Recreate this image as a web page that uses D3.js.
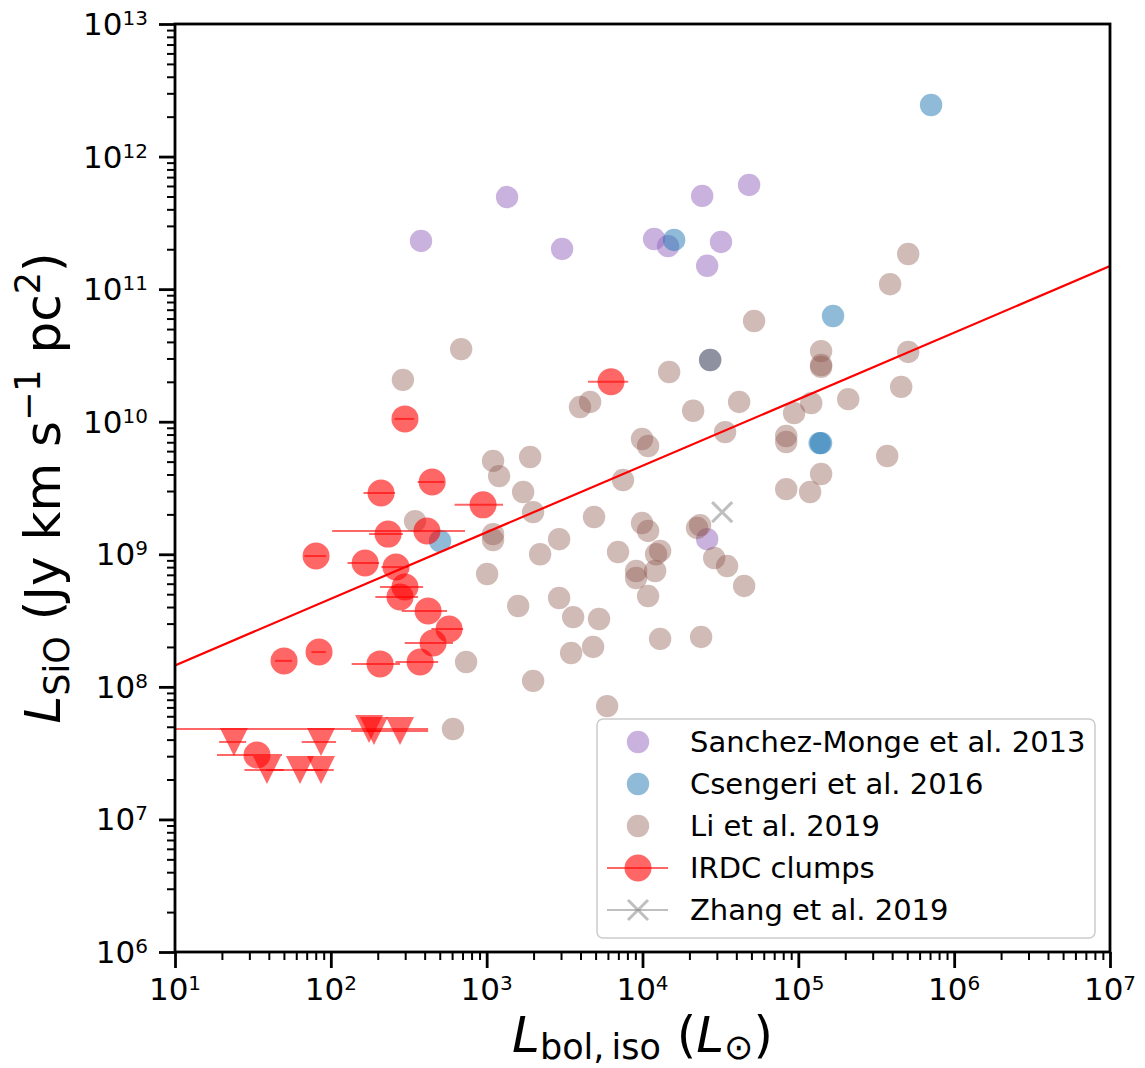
<!DOCTYPE html>
<html>
<head>
<meta charset="utf-8">
<script src="https://cdn.jsdelivr.net/npm/d3@7"></script>
<style>
  html, body { margin: 0; padding: 0; background: #ffffff; }
  svg { display: block; font-family: "DejaVu Sans", sans-serif; }
</style>
</head>
<body>
<script>
// Sanchez-Monge et al. 2013
const sanchezLbol = [379, 1352, 3048, 11870, 14590, 24150, 48300, 31900, 26000, 26000];
const sanchezLsio = [2.31e11, 4.95e11, 2.01e11, 2.39e11, 2.11e11, 5.05e11, 6.11e11, 2.27e11, 1.50e11, 1.30e9];

// Csengeri et al. 2016
const csengeriLbol = [7.11e5, 15960, 1.67e5, 27170, 1.37e5, 1.40e5, 502];
const csengeriLsio = [2.45e12, 2.35e11, 6.27e10, 2.92e10, 6.90e9, 6.90e9, 1.26e9];

// Li et al. 2019
const liLbol = [686, 290, 1099, 1202, 347, 1099, 1099, 1007, 738, 608,
  14820, 27170, 3970, 4610, 21130, 41690, 9930, 10860, 33880, 83600,
  83600, 83600, 1.19e5, 1901, 1714, 1986, 7500, 2917, 4887, 2203,
  9930, 10860, 6966, 12970, 12220, 9100, 9100, 12050, 10860, 22390,
  23420, 28840, 34910, 44900, 1592, 2917, 3589, 5260, 3483, 4818,
  12970, 23770, 1986, 5930, 5.07e5, 3.88e5, 52000, 1.40e5, 1.40e5, 1.40e5,
  5.07e5, 1.21e5, 93900, 2.09e5, 4.57e5, 3.72e5, 1.40e5];
const liLsio = [3.53e10, 2.07e10, 5.06e9, 3.89e9, 1.78e9, 1.42e9, 1.28e9, 7.10e8, 1.54e8, 4.81e7,
  2.37e10, 2.92e10, 1.29e10, 1.41e10, 1.21e10, 1.41e10, 7.41e9, 6.56e9, 8.35e9, 7.80e9,
  7.03e9, 3.10e9, 2.95e9, 5.42e9, 2.95e9, 2.08e9, 3.63e9, 1.30e9, 1.91e9, 1.00e9,
  1.72e9, 1.50e9, 1.04e9, 1.06e9, 1.00e9, 7.48e8, 6.62e8, 7.48e8, 4.84e8, 1.58e9,
  1.66e9, 9.38e8, 8.15e8, 5.77e8, 4.07e8, 4.68e8, 3.36e8, 3.25e8, 1.80e8, 2.00e8,
  2.30e8, 2.38e8, 1.11e8, 7.16e7, 1.84e11, 1.09e11, 5.75e10, 3.41e10, 2.68e10, 2.59e10,
  3.36e10, 1.38e10, 1.16e10, 1.48e10, 1.83e10, 5.51e9, 4.03e9];

// IRDC clumps: detections
const irdcLbol    = [299, 6280, 210, 447, 948, 233, 414, 80.4, 166, 262, 299, 278, 421, 574, 453, 50.1, 84.0, 207, 374, 33.6];
const irdcLbolErr = [43, 1810, 48, 86, 326, 57, 312, 12.7, 38, 51, 92, 85, 136, 132, 155, 6.3, 9, 71, 114, 15];
const irdcLsio    = [1.05e10, 2.0e10, 2.90e9, 3.51e9, 2.36e9, 1.42e9, 1.50e9, 9.70e8, 8.60e8, 8.01e8, 5.66e8, 4.77e8, 3.73e8, 2.73e8, 2.14e8, 1.57e8, 1.83e8, 1.49e8, 1.54e8, 3.06e7];

// IRDC clumps: upper limits
const limLbol    = [23.9, 86.5, 38.9, 63.4, 86.5, 176, 189, 278];
const limLbolErr = [4.7, 21.5, 11, 25, 18, 245, 20, 143];
const limLsio    = [3.84e7, 3.84e7, 2.36e7, 2.36e7, 2.36e7, 4.81e7, 4.65e7, 4.65e7];

// Zhang et al. 2019
const zhangLbol = [32450];
const zhangLsio = [2.08e9];

// Power-law fit: log L_SiO = slope * log L_bol + intercept
const fitSlope = 0.502;
const fitIntercept = 7.66;

// Axis ticks
const xMajorTicks = [1e1, 1e2, 1e3, 1e4, 1e5, 1e6, 1e7];
const xMajorExps  = ["1", "2", "3", "4", "5", "6", "7"];
const yMajorTicks = [1e6, 1e7, 1e8, 1e9, 1e10, 1e11, 1e12, 1e13];
const yMajorExps  = ["6", "7", "8", "9", "10", "11", "12", "13"];

const legendLabels = ["Sanchez-Monge et al. 2013", "Csengeri et al. 2016", "Li et al. 2019", "IRDC clumps", "Zhang et al. 2019"];

const W = 1145, H = 1068;
const plot = { left: 175, right: 1110, top: 24, bottom: 952 };
const FONT = "DejaVu Sans";

const svg = d3.select("body").append("svg").attr("width", W).attr("height", H);

const x = d3.scaleLog().domain([1e1, 1e7]).range([plot.left, plot.right]);
const y = d3.scaleLog().domain([1e6, 1e13]).range([plot.bottom, plot.top]);

svg.append("defs").append("clipPath").attr("id", "plotClip")
  .append("rect").attr("x", plot.left).attr("y", plot.top)
  .attr("width", plot.right - plot.left).attr("height", plot.bottom - plot.top);

const layer = svg.append("g").attr("clip-path", "url(#plotClip)");

const zip = (xs, ys) => xs.map((v, i) => ({ x: v, y: ys[i] }));

function circles(data, color, opacity, r) {
  layer.append("g").selectAll("circle").data(data).join("circle")
    .attr("cx", d => x(d.x)).attr("cy", d => y(d.y)).attr("r", r)
    .attr("fill", color).attr("fill-opacity", opacity);
}

const colPurple = "#9467bd", colBlue = "#1f77b4", colBrown = "#8c564b", colRed = "#ff0000", colGray = "#808080";

circles(zip(sanchezLbol, sanchezLsio), colPurple, 0.5, 11.2);
circles(zip(csengeriLbol, csengeriLsio), colBlue, 0.5, 11.2);
circles(zip(liLbol, liLsio), colBrown, 0.4, 11.2);

// error bars in linear space, clipped to the axis when the lower bound is non-positive
function errX(d) {
  const lo = d.x - d.e;
  return [lo > 0 ? x(lo) : plot.left - 5, x(d.x + d.e)];
}

const irdc = irdcLbol.map((v, i) => ({ x: v, e: irdcLbolErr[i], y: irdcLsio[i] }));
const lims = limLbol.map((v, i) => ({ x: v, e: limLbolErr[i], y: limLsio[i] }));

const gIrdc = layer.append("g");
gIrdc.selectAll("line.err").data(irdc).join("line").attr("class", "err")
  .attr("x1", d => errX(d)[0]).attr("x2", d => errX(d)[1])
  .attr("y1", d => y(d.y)).attr("y2", d => y(d.y))
  .attr("stroke", colRed).attr("stroke-opacity", 0.6).attr("stroke-width", 2);
gIrdc.selectAll("circle").data(irdc).join("circle")
  .attr("cx", d => x(d.x)).attr("cy", d => y(d.y)).attr("r", 13.5)
  .attr("fill", colRed).attr("fill-opacity", 0.6);

const gLim = layer.append("g");
gLim.selectAll("line.err").data(lims).join("line").attr("class", "err")
  .attr("x1", d => errX(d)[0]).attr("x2", d => errX(d)[1])
  .attr("y1", d => y(d.y)).attr("y2", d => y(d.y))
  .attr("stroke", colRed).attr("stroke-opacity", 0.6).attr("stroke-width", 2);
const tri = 14;
gLim.selectAll("path").data(lims).join("path")
  .attr("d", d => {
    const cx = x(d.x), cy = y(d.y);
    return `M${cx - tri},${cy - tri}L${cx + tri},${cy - tri}L${cx},${cy + tri}Z`;
  })
  .attr("fill", colRed).attr("fill-opacity", 0.6);

// Zhang et al. cross
function crossPath(cx, cy, s) {
  return `M${cx - s},${cy - s}L${cx + s},${cy + s}M${cx - s},${cy + s}L${cx + s},${cy - s}`;
}
layer.append("g").selectAll("path").data(zip(zhangLbol, zhangLsio)).join("path")
  .attr("d", d => crossPath(x(d.x), y(d.y), 10))
  .attr("stroke", colGray).attr("stroke-opacity", 0.5).attr("stroke-width", 3).attr("fill", "none");

// Fit line
const fitLine = d3.line().x(d => x(d)).y(d => y(Math.pow(10, fitSlope * Math.log10(d) + fitIntercept)));
layer.append("path").datum(x.domain())
  .attr("d", fitLine).attr("stroke", colRed).attr("stroke-width", 2.2).attr("fill", "none");

// Axes: major and minor ticks pointing outward
const minorX = x.ticks().filter(v => !xMajorTicks.includes(v));
const minorY = y.ticks().filter(v => !yMajorTicks.includes(v));

function styleAxis(g, w) {
  g.select(".domain").remove();
  g.selectAll(".tick line").attr("stroke", "#000").attr("stroke-width", w);
  g.selectAll(".tick text").remove();
}
svg.append("g").attr("transform", `translate(0,${plot.bottom})`)
  .call(d3.axisBottom(x).tickValues(minorX).tickSize(8).tickFormat(""))
  .call(g => styleAxis(g, 2));
svg.append("g").attr("transform", `translate(0,${plot.bottom})`)
  .call(d3.axisBottom(x).tickValues(xMajorTicks).tickSize(16).tickFormat(""))
  .call(g => styleAxis(g, 2.8));
svg.append("g").attr("transform", `translate(${plot.left},0)`)
  .call(d3.axisLeft(y).tickValues(minorY).tickSize(8).tickFormat(""))
  .call(g => styleAxis(g, 2));
svg.append("g").attr("transform", `translate(${plot.left},0)`)
  .call(d3.axisLeft(y).tickValues(yMajorTicks).tickSize(16).tickFormat(""))
  .call(g => styleAxis(g, 2.8));

// Frame
svg.append("rect").attr("x", plot.left).attr("y", plot.top)
  .attr("width", plot.right - plot.left).attr("height", plot.bottom - plot.top)
  .attr("fill", "none").attr("stroke", "#000").attr("stroke-width", 2.8);

// Tick labels (powers of ten)
const tickFs = 31, supFs = 20, supDy = -10;
xMajorTicks.forEach((v, i) => {
  const t = svg.append("text").attr("x", x(v)).attr("y", 1000)
    .attr("text-anchor", "middle").attr("font-family", FONT).attr("font-size", tickFs).attr("fill", "#000");
  t.append("tspan").text("10");
  t.append("tspan").attr("font-size", supFs).attr("dy", supDy).text(xMajorExps[i]);
});
yMajorTicks.forEach((v, i) => {
  const t = svg.append("text").attr("x", 148).attr("y", y(v) + 11)
    .attr("text-anchor", "end").attr("font-family", FONT).attr("font-size", tickFs).attr("fill", "#000");
  t.append("tspan").text("10");
  t.append("tspan").attr("font-size", supFs).attr("dy", supDy).text(yMajorExps[i]);
});

// Axis labels
const labFs = 50, subFs = 35;
const xl = svg.append("text").attr("x", (plot.left + plot.right) / 2).attr("y", 1052)
  .attr("text-anchor", "middle").attr("font-family", FONT).attr("font-size", labFs).attr("fill", "#000");
xl.append("tspan").attr("font-style", "italic").text("L");
xl.append("tspan").attr("font-size", subFs).attr("dy", 7).text("bol,\u2009iso");
xl.append("tspan").attr("dy", -7).text("\u00a0(");
xl.append("tspan").attr("font-style", "italic").text("L");
xl.append("tspan").attr("font-size", subFs).attr("dy", 7).text("\u2299");
xl.append("tspan").attr("dy", -7).text(")");

const yl = svg.append("text")
  .attr("transform", `translate(60,${(plot.top + plot.bottom) / 2}) rotate(-90)`)
  .attr("text-anchor", "middle").attr("font-family", FONT).attr("font-size", labFs).attr("fill", "#000");
yl.append("tspan").attr("font-style", "italic").text("L");
yl.append("tspan").attr("font-size", subFs).attr("dy", 9).text("SiO");
yl.append("tspan").attr("dy", -9).text("\u00a0(Jy km s");
yl.append("tspan").attr("font-size", subFs).attr("dy", -20).text("\u22121");
yl.append("tspan").attr("dy", 20).text(" pc");
yl.append("tspan").attr("font-size", subFs).attr("dy", -20).text("2");
yl.append("tspan").attr("dy", 20).text(")");

// Legend
const lg = svg.append("g");
lg.append("rect").attr("x", 597).attr("y", 719).attr("width", 498).attr("height", 219)
  .attr("rx", 6).attr("fill", "#fff").attr("fill-opacity", 0.8)
  .attr("stroke", "#cccccc").attr("stroke-width", 1.5);
const legX = 638, legY0 = 742, legStep = 42;
legendLabels.forEach((lab, i) => {
  const cy = legY0 + i * legStep;
  if (i < 3) {
    const c = [colPurple, colBlue, colBrown][i];
    const op = [0.5, 0.5, 0.4][i];
    lg.append("circle").attr("cx", legX).attr("cy", cy).attr("r", 11.2).attr("fill", c).attr("fill-opacity", op);
  } else if (i === 3) {
    lg.append("line").attr("x1", legX - 31).attr("x2", legX + 30).attr("y1", cy).attr("y2", cy)
      .attr("stroke", colRed).attr("stroke-opacity", 0.6).attr("stroke-width", 2);
    lg.append("circle").attr("cx", legX).attr("cy", cy).attr("r", 13.5).attr("fill", colRed).attr("fill-opacity", 0.6);
  } else {
    lg.append("line").attr("x1", legX - 31).attr("x2", legX + 30).attr("y1", cy).attr("y2", cy)
      .attr("stroke", colGray).attr("stroke-opacity", 0.5).attr("stroke-width", 2);
    lg.append("path").attr("d", crossPath(legX, cy, 10))
      .attr("stroke", colGray).attr("stroke-opacity", 0.5).attr("stroke-width", 3).attr("fill", "none");
  }
  lg.append("text").attr("x", 690).attr("y", cy + 10)
    .attr("font-family", FONT).attr("font-size", 29).attr("fill", "#000").text(lab);
});
</script>
</body>
</html>
